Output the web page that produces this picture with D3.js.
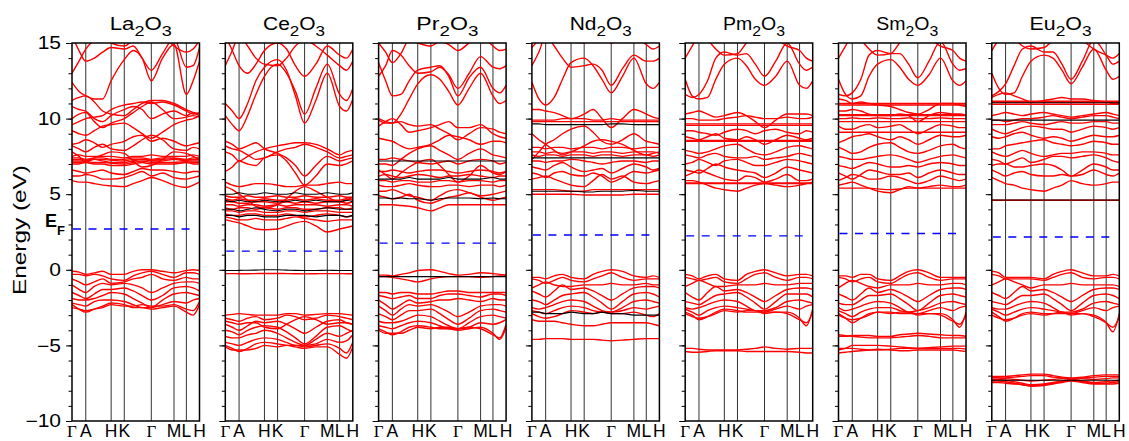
<!DOCTYPE html>
<html><head><meta charset="utf-8">
<script src="https://cdn.jsdelivr.net/npm/d3@7"></script>
<style>body{margin:0;background:#fff}svg{display:block}</style>
</head><body>
<svg id="chart" width="1129" height="441"></svg>
<script>
// ---------------- DATA ----------------
const compounds = ["La","Ce","Pr","Nd","Pm","Sm","Eu"];
const fermiLevels = [2.7, 1.24, 1.77, 2.3, 2.24, 2.4, 2.17];
const kLabels = ["Γ","A","H","K","Γ","M","L","H"];
const kSymPos = [0, 0.108, 0.307, 0.41, 0.622, 0.8, 0.897, 1];
const kGrid = [0, 0.055, 0.108, 0.175, 0.24, 0.307, 0.41, 0.48, 0.55, 0.622, 0.71, 0.8, 0.897, 0.95, 1];
const yTickValues = [-10, -5, 0, 5, 10, 15];

const La_red = [
 [-0.1,-0.15,-0.3,-0.2,-0.1,-0.3,-0.3,-0.1,0.0,0.0,-0.1,-0.2,-0.05,0.0,-0.05],
 [-0.3,-0.3,-0.4,-0.3,-0.4,-0.6,-0.7,-0.4,-0.2,-0.1,-0.3,-0.5,-0.2,-0.2,-0.3],
 [-0.6,-0.8,-1.0,-0.8,-0.6,-0.9,-0.8,-0.6,-0.5,-0.3,-0.6,-0.7,-0.5,-0.6,-0.6],
 [-1.0,-1.3,-1.5,-1.1,-0.9,-1.0,-0.9,-1.0,-1.2,-1.5,-1.2,-0.9,-0.8,-0.8,-0.9],
 [-1.5,-1.7,-1.9,-1.6,-1.3,-1.3,-1.2,-1.4,-1.7,-2.0,-1.7,-1.2,-1.1,-1.2,-1.4],
 [-1.9,-2.0,-2.0,-1.9,-1.7,-1.5,-1.6,-1.9,-2.2,-2.5,-2.0,-1.6,-1.5,-1.6,-1.7],
 [-2.2,-2.3,-2.4,-2.1,-2.0,-2.0,-2.1,-2.3,-2.5,-2.5,-2.3,-2.1,-2.2,-2.0,-1.9],
 [-2.3,-2.6,-2.8,-2.6,-2.4,-2.2,-2.3,-2.5,-2.5,-2.6,-2.5,-2.4,-2.8,-3.0,-2.3],
 [-2.5,-2.6,-2.7,-2.6,-2.5,-2.3,-2.4,-2.4,-2.3,-2.4,-2.4,-2.3,-2.6,-2.7,-2.1],
 [5.9,5.8,5.8,5.7,5.6,5.55,5.5,5.7,5.9,6.1,5.9,5.6,5.45,5.6,5.8],
 [6.2,6.2,6.3,6.2,6.0,6.0,6.1,6.3,6.5,6.2,6.4,6.1,6.0,6.1,6.2],
 [6.6,6.5,6.4,6.5,6.6,6.4,6.3,6.5,6.7,6.6,6.6,6.5,6.4,6.5,6.5],
 [7.0,7.0,7.1,7.0,7.0,6.9,6.9,7.0,7.1,7.0,7.0,7.0,7.1,7.0,7.0],
 [7.1,7.1,7.15,7.1,7.1,7.05,7.0,7.1,7.2,7.1,7.1,7.1,7.15,7.1,7.1],
 [7.2,7.2,7.2,7.3,7.2,7.1,7.1,7.2,7.3,7.2,7.2,7.3,7.2,7.2,7.2],
 [7.3,7.3,7.25,7.3,7.3,7.25,7.2,7.3,7.3,7.25,7.3,7.35,7.25,7.3,7.3],
 [7.4,7.4,7.3,7.4,7.4,7.3,7.3,7.4,7.4,7.3,7.4,7.4,7.3,7.4,7.4],
 [7.5,7.6,7.5,7.5,7.5,7.5,7.4,7.5,7.5,7.6,7.5,7.5,7.5,7.6,7.5],
 [7.8,7.5,7.1,7.4,7.6,7.8,7.7,7.2,6.8,6.9,7.3,7.8,7.7,7.5,7.3],
 [8.2,8.0,7.8,8.1,8.3,8.0,7.9,8.2,8.6,8.9,8.6,8.0,7.9,8.1,8.0],
 [8.3,8.4,8.6,8.4,8.1,8.3,8.5,8.8,8.9,8.5,8.7,8.5,8.2,8.3,8.4],
 [9.2,9.0,8.9,9.2,9.5,9.6,9.7,9.4,9.0,8.7,9.1,9.6,9.9,10.0,10.2],
 [10.0,10.3,10.4,9.8,9.4,9.7,10.0,10.4,10.8,11.1,10.6,10.0,10.1,10.2,10.1],
 [10.8,10.6,10.5,10.0,9.8,10.2,10.6,10.8,10.6,10.0,10.3,10.5,10.2,10.4,10.3],
 [11.2,11.4,11.5,11.1,10.5,10.3,10.2,10.6,11.0,11.2,11.2,11.0,10.6,10.4,10.2],
 [9.6,9.8,10.0,10.1,10.2,10.6,10.9,11.0,11.1,11.0,11.1,10.9,10.5,10.3,10.4],
 [12.4,11.8,11.5,11.3,11.3,12.5,13.9,14.5,14.0,12.5,14.0,14.9,11.6,12.5,13.8],
 [15.5,14.5,13.8,14.0,14.4,14.7,14.6,14.8,14.0,13.2,14.3,15.3,13.4,13.5,14.7],
 [13.0,13.8,14.6,15.2,15.5,15.0,14.8,15.2,15.5,15.5,15.5,14.8,14.4,14.6,15.2]
];
const La_black = [];

const Ce_red = [
 [-3.0,-2.95,-2.9,-2.95,-3.0,-3.0,-3.0,-2.9,-2.9,-3.0,-2.95,-2.9,-2.9,-2.95,-3.0],
 [-3.2,-3.3,-3.4,-3.2,-3.1,-3.3,-3.2,-3.0,-3.1,-3.3,-3.2,-3.0,-3.1,-3.2,-3.3],
 [-3.6,-3.8,-4.0,-3.7,-3.4,-3.5,-3.4,-3.6,-3.9,-4.2,-3.8,-3.4,-3.3,-3.5,-3.6],
 [-4.0,-4.1,-4.3,-4.0,-3.8,-3.7,-3.8,-4.1,-4.5,-4.9,-4.4,-3.8,-3.7,-3.9,-4.1],
 [-4.4,-4.5,-4.5,-4.3,-4.2,-4.0,-4.2,-4.5,-4.8,-5.0,-4.6,-4.2,-4.4,-4.2,-4.0],
 [-4.8,-4.9,-5.0,-4.8,-4.6,-4.5,-4.6,-4.8,-5.0,-5.0,-4.9,-4.6,-4.8,-4.7,-4.3],
 [-5.0,-5.2,-5.4,-5.2,-4.9,-4.8,-4.9,-5.0,-5.0,-5.1,-5.0,-4.9,-5.2,-5.5,-4.8],
 [-5.1,-5.3,-5.3,-5.3,-5.2,-5.0,-5.1,-5.0,-5.1,-5.2,-5.1,-5.1,-5.6,-5.85,-5.1],
 [-3.4,-3.5,-3.6,-3.5,-3.5,-3.8,-3.9,-3.6,-3.3,-3.1,-3.3,-3.6,-3.5,-3.5,-3.6],
 [-0.25,-0.25,-0.26,-0.26,-0.25,-0.24,-0.24,-0.25,-0.26,-0.27,-0.26,-0.25,-0.25,-0.26,-0.26],
 [3.3,3.2,3.1,2.9,2.7,2.65,2.7,2.9,3.1,3.2,2.9,2.5,2.7,2.8,2.9],
 [3.5,3.4,3.3,3.3,3.4,3.3,3.3,3.4,3.5,3.4,3.3,3.2,3.3,3.3,3.3],
 [3.7,3.6,3.6,3.7,3.7,3.6,3.6,3.7,3.6,3.5,3.6,3.7,3.6,3.5,3.6],
 [3.9,3.9,3.8,3.9,3.9,3.8,3.8,3.9,3.9,3.8,3.9,3.9,3.8,3.8,3.8],
 [4.1,4.0,4.1,4.1,4.0,4.1,4.0,4.1,4.1,4.0,4.0,4.1,4.1,4.0,4.1],
 [4.3,4.3,4.2,4.3,4.3,4.2,4.3,4.2,4.3,4.3,4.3,4.2,4.3,4.3,4.2],
 [4.5,4.5,4.4,4.4,4.5,4.5,4.4,4.5,4.4,4.5,4.4,4.5,4.5,4.4,4.5],
 [4.7,4.6,4.7,4.6,4.6,4.7,4.6,4.6,4.7,4.6,4.7,4.6,4.6,4.7,4.6],
 [4.9,4.8,4.8,4.9,4.8,4.8,4.9,4.8,4.8,4.9,4.8,4.8,4.9,4.8,4.8],
 [5.5,5.3,5.0,4.6,4.2,4.1,4.3,4.7,5.2,5.5,5.2,4.8,4.5,4.6,4.8],
 [5.8,5.6,5.5,5.6,5.7,5.7,5.6,5.5,5.5,5.6,5.6,5.7,5.8,5.7,5.7],
 [6.5,6.8,7.2,7.0,6.9,7.4,7.6,7.2,6.4,5.6,6.2,7.0,6.9,7.0,7.2],
 [7.8,7.6,7.2,7.5,7.8,8.0,8.2,8.3,8.4,8.4,8.3,8.0,7.6,7.8,7.9],
 [8.2,8.0,7.9,7.6,7.3,7.4,7.8,8.0,8.1,8.3,8.1,7.8,7.4,7.5,7.6],
 [8.5,8.3,8.0,8.2,8.4,8.0,7.7,7.4,6.9,6.2,6.9,7.5,7.2,7.3,7.4],
 [10.2,9.6,9.2,10.2,11.6,12.8,13.6,13.0,11.8,10.3,12.0,13.6,11.6,11.2,12.0],
 [11.0,10.5,10.0,11.0,12.5,13.4,13.9,13.2,11.5,9.7,11.2,13.0,10.8,10.5,11.3],
 [15.5,14.5,13.5,13.0,13.6,14.5,15.0,14.6,13.5,12.8,13.6,14.8,14.2,14.0,14.6],
 [13.5,14.5,15.5,14.8,14.0,13.6,13.5,14.0,14.8,15.2,14.8,14.2,13.5,13.2,13.8]
];
const Ce_black = [
 [-0.05,-0.05,-0.04,-0.03,-0.02,0.0,0.0,-0.02,-0.04,-0.05,-0.05,-0.03,-0.05,-0.05,-0.05],
 [3.6,3.6,3.5,3.6,3.6,3.5,3.5,3.6,3.6,3.6,3.5,3.6,3.6,3.5,3.6],
 [4.0,4.0,3.9,4.0,4.1,4.0,3.9,4.0,4.0,3.9,4.0,4.1,4.0,4.0,4.0],
 [4.6,4.5,4.6,4.5,4.5,4.6,4.5,4.5,4.6,4.5,4.6,4.5,4.5,4.6,4.5],
 [5.0,5.0,5.1,5.0,5.0,5.1,5.0,5.0,5.1,5.0,5.0,5.1,5.0,5.0,5.1]
];

const Pr_red = [
 [-1.5,-1.5,-1.6,-1.5,-1.5,-1.6,-1.6,-1.5,-1.4,-1.4,-1.5,-1.5,-1.5,-1.5,-1.5],
 [-1.7,-1.8,-1.9,-1.8,-1.7,-1.9,-1.9,-1.7,-1.6,-1.6,-1.7,-1.8,-1.6,-1.6,-1.7],
 [-2.0,-2.3,-2.6,-2.3,-2.0,-2.2,-2.1,-2.0,-2.0,-1.9,-2.0,-2.1,-1.9,-2.0,-2.0],
 [-2.4,-2.7,-3.0,-2.6,-2.3,-2.4,-2.3,-2.5,-2.8,-3.1,-2.8,-2.4,-2.3,-2.3,-2.4],
 [-2.9,-3.1,-3.3,-3.0,-2.7,-2.7,-2.6,-2.9,-3.3,-3.6,-3.2,-2.7,-2.6,-2.7,-2.8],
 [-3.4,-3.5,-3.5,-3.4,-3.2,-3.0,-3.1,-3.4,-3.7,-3.9,-3.5,-3.1,-3.0,-3.1,-3.2],
 [-3.7,-3.8,-3.9,-3.7,-3.5,-3.4,-3.5,-3.7,-3.9,-3.9,-3.8,-3.5,-3.6,-3.5,-3.3],
 [-3.9,-4.1,-4.3,-4.1,-3.8,-3.7,-3.8,-3.9,-3.9,-4.0,-3.9,-3.8,-4.2,-4.6,-3.8],
 [-4.0,-4.2,-4.2,-4.2,-4.0,-3.8,-3.9,-3.8,-3.8,-3.9,-3.8,-3.9,-4.3,-4.5,-3.6],
 [-0.35,-0.35,-0.4,-0.3,-0.2,-0.05,0.0,-0.1,-0.25,-0.35,-0.3,-0.2,-0.25,-0.3,-0.35],
 [-0.45,-0.45,-0.5,-0.6,-0.7,-0.8,-0.6,-0.5,-0.45,-0.45,-0.45,-0.5,-0.45,-0.4,-0.4],
 [4.3,4.3,4.3,4.25,4.2,4.1,3.9,4.1,4.3,4.3,4.3,4.3,4.3,4.3,4.3],
 [4.9,4.8,4.7,4.8,5.0,4.6,4.4,4.6,4.8,4.9,5.1,4.8,4.6,4.7,4.8],
 [5.2,5.2,5.3,5.1,4.9,4.8,4.6,4.9,5.2,5.3,5.1,4.9,5.0,5.1,5.2],
 [5.6,5.5,5.5,5.6,5.7,5.6,5.5,5.5,5.6,5.6,5.5,5.6,5.6,5.5,5.6],
 [5.9,5.9,5.8,5.9,5.9,5.8,5.8,5.9,5.9,5.8,5.9,5.9,5.8,5.9,5.9],
 [6.2,6.3,6.2,6.1,6.2,6.3,6.2,6.1,6.2,6.2,6.3,6.2,6.1,6.2,6.2],
 [6.5,6.5,6.6,6.5,6.4,6.5,6.6,6.6,6.5,6.4,6.5,6.6,6.5,6.4,6.5],
 [7.3,7.3,7.4,7.3,7.2,7.1,7.0,7.1,7.2,7.0,7.2,7.3,7.2,7.0,7.1],
 [6.6,6.3,6.0,6.4,6.8,7.1,7.3,6.9,6.3,5.8,6.2,6.9,6.4,6.3,6.5],
 [7.0,7.0,6.9,7.3,7.7,8.0,8.2,7.9,7.6,7.3,7.7,8.0,7.6,7.5,7.4],
 [8.7,8.6,8.5,8.2,8.0,8.1,8.3,8.6,8.9,8.8,8.6,8.3,8.5,8.5,8.4],
 [9.5,9.8,10.0,9.6,9.1,9.2,9.4,9.6,9.8,9.4,9.4,9.6,9.0,8.8,8.7],
 [9.9,9.7,9.7,9.8,9.6,9.5,9.6,9.3,9.0,8.6,9.0,9.4,9.3,9.1,9.0],
 [10.0,9.8,9.7,10.3,11.3,12.3,12.9,12.6,11.8,10.9,12.0,13.0,11.5,11.0,11.2],
 [13.7,12.5,11.5,11.6,12.5,13.2,13.4,13.5,12.8,11.5,12.7,13.4,12.0,11.7,12.2],
 [12.8,13.5,14.5,14.2,13.5,13.0,13.1,13.4,12.9,12.0,13.0,14.1,13.4,13.3,13.5],
 [15.0,14.4,13.7,14.3,15.2,15.0,14.8,15.1,14.9,14.5,15.0,15.5,14.8,14.5,14.6]
];
const Pr_black = [
 [-0.45,-0.45,-0.45,-0.45,-0.45,-0.45,-0.45,-0.45,-0.45,-0.45,-0.45,-0.45,-0.45,-0.45,-0.45],
 [4.75,4.75,4.7,4.75,4.7,4.7,4.6,4.7,4.75,4.75,4.75,4.7,4.75,4.7,4.7],
 [6.0,6.0,6.0,6.0,6.1,6.0,6.0,6.0,6.1,6.0,6.0,6.0,6.1,6.0,6.0],
 [7.2,7.2,7.2,7.2,7.2,7.2,7.2,7.2,7.2,7.2,7.2,7.2,7.2,7.2,7.2]
];

const Nd_red = [
 [-0.5,-0.5,-0.6,-0.4,-0.3,-0.5,-0.6,-0.3,-0.1,0.0,-0.1,-0.4,-0.5,-0.4,-0.5],
 [-0.6,-0.7,-0.9,-0.7,-0.5,-0.7,-0.8,-0.6,-0.4,-0.2,-0.5,-0.7,-0.6,-0.6,-0.6],
 [-1.2,-1.0,-0.8,-1.0,-1.1,-1.1,-1.0,-1.0,-1.0,-0.9,-1.0,-1.0,-0.9,-1.0,-1.0],
 [-1.4,-1.6,-1.8,-1.4,-1.0,-1.3,-1.2,-1.4,-1.7,-2.0,-1.6,-1.2,-1.1,-1.1,-1.2],
 [-2.0,-2.1,-2.3,-2.0,-1.7,-1.6,-1.5,-1.8,-2.2,-2.6,-2.1,-1.6,-1.5,-1.6,-1.8],
 [-2.5,-2.6,-2.5,-2.3,-2.1,-2.0,-2.1,-2.4,-2.7,-2.8,-2.5,-2.1,-2.0,-2.1,-2.2],
 [-2.7,-2.8,-2.9,-2.7,-2.5,-2.4,-2.5,-2.7,-2.8,-2.8,-2.7,-2.5,-2.6,-2.5,-2.4],
 [-2.9,-3.1,-3.2,-3.1,-2.9,-2.7,-2.8,-2.9,-2.8,-2.9,-2.9,-2.8,-3.0,-3.1,-2.9],
 [-3.3,-3.4,-3.4,-3.4,-3.5,-3.6,-3.7,-3.7,-3.6,-3.5,-3.5,-3.5,-3.5,-3.6,-3.7],
 [-4.6,-4.6,-4.55,-4.55,-4.55,-4.6,-4.6,-4.6,-4.65,-4.7,-4.65,-4.6,-4.55,-4.55,-4.55],
 [5.0,5.0,5.0,5.0,5.0,5.0,4.95,4.95,4.95,4.95,4.95,5.0,5.0,5.0,5.0],
 [5.3,5.3,5.3,5.3,5.25,5.2,5.2,5.3,5.3,5.3,5.3,5.3,5.3,5.3,5.3],
 [6.0,6.1,6.2,6.0,5.8,5.6,5.5,5.9,6.3,6.0,6.2,5.8,5.7,5.8,5.9],
 [6.4,6.3,6.1,6.4,6.5,6.3,6.2,6.4,6.2,5.8,6.1,6.5,6.4,6.5,6.6],
 [6.8,6.7,6.6,6.9,7.1,6.8,6.5,6.6,6.7,6.4,6.7,7.0,6.8,6.6,6.7],
 [7.2,7.2,7.1,7.2,7.2,7.3,7.2,7.1,7.0,7.1,7.2,7.2,7.1,7.2,7.2],
 [7.6,7.5,7.6,7.6,7.5,7.6,7.6,7.5,7.6,7.6,7.5,7.6,7.6,7.5,7.6],
 [7.8,7.8,7.7,7.8,7.7,7.8,7.8,7.7,7.8,7.8,7.7,7.8,7.8,7.8,7.7],
 [8.1,8.1,8.0,8.1,8.1,8.0,8.1,8.1,8.0,8.1,8.1,8.0,8.1,8.1,8.1],
 [7.3,7.8,8.3,8.6,9.0,9.3,9.5,9.1,8.5,8.3,8.6,9.0,8.5,8.4,8.3],
 [9.0,8.6,8.3,7.9,7.6,7.8,8.2,8.5,8.6,8.5,8.3,7.9,7.6,7.7,7.8],
 [9.8,9.8,9.8,9.8,9.8,9.8,9.8,9.8,9.8,9.8,9.8,9.8,9.8,9.8,9.8],
 [9.9,9.9,9.9,9.9,10.0,10.0,10.0,9.9,9.9,10.0,9.9,9.9,9.9,9.9,9.9],
 [10.6,10.6,10.5,10.4,10.2,10.0,10.3,10.6,10.0,9.4,10.0,10.6,10.3,10.1,10.0],
 [12.4,11.3,10.9,11.4,12.6,13.7,14.0,13.5,12.6,11.7,12.8,14.0,12.3,12.0,12.4],
 [13.5,14.4,15.5,14.8,14.0,13.4,13.5,13.6,13.2,12.2,13.3,14.2,13.8,13.8,14.0],
 [14.7,15.2,15.5,15.3,15.5,15.2,15.0,15.3,15.5,15.0,15.3,15.6,14.9,14.6,14.8]
];
const Nd_black = [
 [-2.8,-2.8,-2.9,-2.9,-2.9,-2.8,-2.9,-2.9,-2.8,-2.9,-2.9,-3.0,-3.0,-3.0,-3.0],
 [5.2,5.2,5.2,5.2,5.2,5.2,5.15,5.15,5.2,5.2,5.2,5.25,5.2,5.2,5.2],
 [7.4,7.4,7.4,7.4,7.4,7.4,7.4,7.4,7.4,7.4,7.4,7.4,7.4,7.4,7.4],
 [9.65,9.65,9.6,9.6,9.6,9.6,9.6,9.6,9.6,9.65,9.65,9.6,9.6,9.6,9.6]
];

const Pm_red = [
 [-0.3,-0.4,-0.6,-0.4,-0.3,-0.6,-0.7,-0.3,-0.1,0.0,-0.2,-0.4,-0.3,-0.3,-0.4],
 [-0.5,-0.6,-0.7,-0.6,-0.5,-0.8,-0.9,-0.6,-0.3,-0.2,-0.5,-0.7,-0.5,-0.5,-0.6],
 [-1.1,-0.9,-0.7,-0.9,-1.1,-1.1,-1.0,-1.0,-1.0,-0.9,-1.0,-1.0,-0.9,-0.9,-0.9],
 [-1.5,-1.8,-2.0,-1.5,-1.1,-1.4,-1.3,-1.5,-1.8,-2.1,-1.7,-1.3,-1.2,-1.2,-1.3],
 [-2.1,-2.2,-2.3,-2.0,-1.7,-1.6,-1.5,-1.8,-2.2,-2.6,-2.1,-1.6,-1.6,-1.6,-1.8],
 [-2.5,-2.6,-2.5,-2.3,-2.1,-2.0,-2.1,-2.4,-2.7,-2.7,-2.5,-2.1,-2.0,-2.1,-2.2],
 [-2.6,-2.8,-3.0,-2.7,-2.5,-2.4,-2.5,-2.6,-2.7,-2.8,-2.6,-2.4,-2.6,-2.4,-2.3],
 [-2.8,-3.0,-3.3,-3.1,-2.8,-2.6,-2.7,-2.8,-2.8,-2.8,-2.8,-2.8,-3.2,-3.7,-2.6],
 [-2.9,-3.1,-3.2,-3.1,-2.9,-2.7,-2.8,-2.7,-2.7,-2.9,-2.8,-2.9,-3.3,-3.5,-2.8],
 [-5.2,-5.2,-5.25,-5.3,-5.3,-5.3,-5.3,-5.25,-5.2,-5.1,-5.2,-5.25,-5.2,-5.2,-5.2],
 [-5.4,-5.45,-5.45,-5.4,-5.35,-5.35,-5.35,-5.4,-5.4,-5.4,-5.4,-5.4,-5.45,-5.5,-5.5],
 [5.7,5.7,5.7,5.7,5.7,5.7,5.7,5.7,5.7,5.7,5.7,5.7,5.7,5.7,5.7],
 [5.75,5.75,5.75,5.75,5.75,5.75,5.75,5.75,5.75,5.75,5.75,5.75,5.75,5.75,5.75],
 [5.9,5.9,5.8,5.6,5.4,5.3,5.2,5.4,5.6,5.7,5.6,5.5,5.6,5.7,5.8],
 [6.2,6.4,6.6,6.4,6.2,6.0,5.9,6.2,6.1,5.8,6.0,6.3,5.9,5.9,6.0],
 [6.6,6.5,6.4,6.7,7.0,6.8,6.6,6.5,6.4,6.1,6.4,6.8,6.6,6.5,6.4],
 [7.0,7.1,7.3,7.1,6.9,7.2,7.3,7.1,6.9,6.9,7.1,7.3,7.2,7.1,7.0],
 [7.6,7.5,7.4,7.6,7.7,7.5,7.4,7.4,7.5,7.3,7.4,7.5,7.7,7.6,7.5],
 [7.9,7.8,7.7,7.8,8.0,8.2,8.3,8.0,7.7,7.6,7.8,8.1,8.2,8.1,8.0],
 [8.5,8.5,8.5,8.5,8.5,8.5,8.5,8.5,8.5,8.5,8.5,8.5,8.5,8.5,8.5],
 [8.55,8.55,8.55,8.55,8.55,8.55,8.55,8.55,8.55,8.55,8.55,8.55,8.55,8.55,8.55],
 [8.8,8.7,8.6,8.8,9.0,8.7,8.6,8.8,8.6,8.3,8.6,8.9,8.7,8.6,8.7],
 [9.2,9.2,9.1,9.0,8.9,9.1,9.3,9.2,9.0,9.2,9.3,9.1,9.0,9.2,9.1],
 [9.55,9.55,9.55,9.55,9.55,9.55,9.55,9.55,9.55,9.55,9.55,9.55,9.55,9.55,9.55],
 [9.65,9.65,9.65,9.65,9.65,9.65,9.65,9.65,9.65,9.65,9.65,9.65,9.65,9.65,9.65],
 [10.0,10.0,9.9,9.9,9.9,10.0,10.1,10.2,10.1,10.0,10.0,10.1,10.0,10.0,10.1],
 [10.3,10.4,10.5,10.3,10.1,10.2,10.4,10.2,9.8,9.4,9.9,10.3,10.3,10.3,10.2],
 [12.6,11.5,11.3,11.4,12.6,13.6,14.0,13.5,12.6,12.2,12.8,13.8,12.2,12.0,12.5],
 [11.6,11.4,11.6,12.5,14.0,14.4,14.2,14.3,13.6,12.8,13.8,15.0,13.6,13.2,13.4],
 [14.0,14.8,15.5,15.2,14.6,14.2,14.3,15.0,15.5,15.6,15.3,14.8,14.5,14.0,13.8]
];
const Pm_black = [];

const Sm_red = [
 [-0.4,-0.4,-0.5,-0.3,-0.3,-0.6,-0.7,-0.4,-0.1,0.0,-0.2,-0.5,-0.5,-0.5,-0.5],
 [-0.5,-0.6,-0.8,-0.6,-0.5,-0.8,-0.9,-0.6,-0.3,-0.2,-0.5,-0.7,-0.6,-0.6,-0.6],
 [-1.2,-0.9,-0.7,-0.9,-1.1,-1.2,-1.0,-1.0,-1.0,-0.9,-1.0,-1.0,-0.9,-0.9,-1.0],
 [-1.6,-1.8,-2.0,-1.6,-1.2,-1.5,-1.3,-1.5,-1.8,-2.1,-1.7,-1.3,-1.2,-1.2,-1.3],
 [-2.2,-2.3,-2.3,-2.0,-1.7,-1.7,-1.6,-1.9,-2.3,-2.7,-2.2,-1.7,-1.6,-1.7,-1.8],
 [-2.5,-2.7,-2.6,-2.4,-2.2,-2.1,-2.2,-2.5,-2.8,-2.7,-2.5,-2.2,-2.1,-2.2,-2.3],
 [-2.7,-2.9,-3.1,-2.8,-2.6,-2.5,-2.5,-2.7,-2.8,-2.9,-2.7,-2.5,-2.7,-2.5,-2.4],
 [-2.9,-3.2,-3.5,-3.2,-2.9,-2.8,-2.8,-2.9,-2.9,-2.9,-2.9,-2.9,-3.3,-3.8,-2.8],
 [-3.0,-3.2,-3.3,-3.2,-3.0,-2.8,-2.9,-2.8,-2.8,-3.0,-2.9,-3.0,-3.4,-3.6,-3.0],
 [-4.4,-4.4,-4.35,-4.35,-4.35,-4.4,-4.4,-4.3,-4.25,-4.2,-4.25,-4.3,-4.35,-4.35,-4.4],
 [-4.3,-4.35,-4.4,-4.45,-4.5,-4.5,-4.5,-4.45,-4.4,-4.35,-4.4,-4.5,-4.5,-4.5,-4.5],
 [-5.3,-5.2,-5.0,-5.0,-5.0,-5.0,-5.05,-5.1,-5.15,-5.2,-5.15,-5.1,-5.05,-5.05,-5.05],
 [-5.5,-5.45,-5.4,-5.35,-5.3,-5.25,-5.3,-5.35,-5.35,-5.3,-5.3,-5.3,-5.3,-5.35,-5.4],
 [-5.2,-5.2,-5.2,-5.25,-5.3,-5.3,-5.25,-5.2,-5.2,-5.2,-5.2,-5.2,-5.2,-5.2,-5.25],
 [5.4,5.4,5.4,5.4,5.4,5.35,5.3,5.35,5.4,5.4,5.4,5.4,5.4,5.4,5.4],
 [5.6,5.7,5.8,5.6,5.4,5.2,5.1,5.3,5.5,5.4,5.5,5.6,5.5,5.5,5.6],
 [5.9,6.1,6.3,6.2,6.0,6.0,6.2,6.1,5.9,5.7,5.9,6.2,6.0,5.9,6.0],
 [6.4,6.2,6.0,6.3,6.6,6.5,6.3,6.3,6.4,6.1,6.4,6.6,6.4,6.3,6.3],
 [6.9,6.8,6.7,6.9,7.1,7.0,6.8,6.8,6.9,6.8,7.0,7.1,7.0,6.9,6.9],
 [7.5,7.4,7.3,7.3,7.4,7.5,7.6,7.5,7.3,7.1,7.3,7.5,7.6,7.5,7.4],
 [8.1,7.9,7.7,7.8,8.1,8.3,8.4,8.1,7.8,7.7,7.9,8.2,8.3,8.1,8.0],
 [8.4,8.6,8.8,8.9,9.0,8.8,8.6,8.8,8.6,8.3,8.6,8.9,8.8,8.8,8.9],
 [9.1,9.1,9.1,9.1,9.1,9.1,9.1,9.1,9.1,9.1,9.1,9.1,9.1,9.1,9.1],
 [9.5,9.3,9.3,9.5,9.6,9.4,9.5,9.6,9.3,9.0,9.3,9.6,9.5,9.4,9.4],
 [9.8,9.8,9.8,9.8,9.8,9.8,9.8,9.8,9.8,9.8,9.8,9.8,9.8,9.8,9.8],
 [10.0,10.0,10.05,10.0,10.0,10.05,10.0,10.0,10.05,10.0,10.0,10.05,10.0,10.0,10.0],
 [10.2,10.2,10.2,10.2,10.2,10.2,10.2,10.2,10.2,10.2,10.2,10.2,10.2,10.2,10.2],
 [10.25,10.25,10.25,10.25,10.25,10.25,10.25,10.25,10.25,10.25,10.25,10.25,10.25,10.25,10.25],
 [10.5,10.5,10.6,10.5,10.3,10.2,10.2,10.3,10.2,9.8,10.2,10.4,10.3,10.3,10.2],
 [10.9,10.9,10.9,10.9,10.9,10.9,10.9,10.9,10.9,10.9,10.9,10.9,10.9,10.9,10.9],
 [11.0,11.0,11.0,11.0,11.0,11.0,11.0,11.0,11.0,11.0,11.0,11.0,11.0,11.0,11.0],
 [11.3,11.2,11.0,11.1,11.0,10.9,10.8,10.6,10.4,10.3,10.6,11.0,11.0,10.9,10.8],
 [12.6,11.6,11.3,11.5,12.8,13.6,13.9,13.4,12.6,12.2,12.9,14.0,12.5,12.2,12.5],
 [11.6,11.5,11.7,12.6,14.2,14.5,14.3,14.3,13.6,12.7,13.8,15.1,13.6,13.2,13.3],
 [14.0,14.8,15.5,15.2,14.6,14.2,14.3,15.0,15.5,15.6,15.3,14.8,14.5,14.0,13.8]
];
const Sm_black = [];

const Eu_red = [
 [-0.1,-0.2,-0.5,-0.5,-0.5,-0.5,-0.6,-0.3,-0.1,0.0,-0.2,-0.4,-0.4,-0.3,-0.4],
 [-0.3,-0.4,-0.6,-0.6,-0.6,-0.6,-0.7,-0.5,-0.3,-0.2,-0.5,-0.6,-0.5,-0.5,-0.6],
 [-1.0,-0.8,-0.6,-0.8,-1.0,-1.2,-1.0,-1.0,-1.0,-0.9,-1.0,-1.0,-1.0,-1.0,-1.1],
 [-1.5,-1.7,-1.9,-1.5,-1.1,-1.4,-1.3,-1.5,-1.8,-2.1,-1.7,-1.3,-1.2,-1.2,-1.3],
 [-2.1,-2.2,-2.3,-2.0,-1.7,-1.7,-1.6,-1.9,-2.3,-2.7,-2.2,-1.7,-1.6,-1.7,-1.9],
 [-2.5,-2.6,-2.6,-2.4,-2.2,-2.1,-2.2,-2.5,-2.8,-2.8,-2.6,-2.2,-2.1,-2.2,-2.3],
 [-2.6,-2.8,-3.0,-2.8,-2.6,-2.5,-2.6,-2.7,-2.8,-2.9,-2.7,-2.5,-2.7,-2.5,-2.4],
 [-2.8,-3.1,-3.4,-3.2,-2.9,-2.8,-2.9,-2.9,-2.9,-2.9,-2.9,-3.0,-3.5,-4.1,-2.9],
 [-3.0,-3.2,-3.3,-3.2,-3.0,-2.9,-3.0,-2.9,-2.8,-3.0,-2.9,-3.1,-3.5,-3.8,-3.1],
 [-7.05,-7.05,-7.05,-7.0,-6.95,-6.9,-6.9,-7.0,-7.1,-7.15,-7.1,-7.0,-6.95,-6.95,-6.95],
 [-7.15,-7.15,-7.15,-7.1,-7.05,-7.0,-7.0,-7.1,-7.15,-7.2,-7.15,-7.1,-7.05,-7.05,-7.05],
 [-7.1,-7.15,-7.2,-7.25,-7.3,-7.35,-7.3,-7.25,-7.2,-7.2,-7.2,-7.25,-7.2,-7.15,-7.15],
 [-7.25,-7.25,-7.3,-7.4,-7.5,-7.6,-7.55,-7.45,-7.35,-7.25,-7.35,-7.45,-7.4,-7.35,-7.3],
 [-7.35,-7.35,-7.4,-7.5,-7.6,-7.65,-7.6,-7.5,-7.4,-7.3,-7.4,-7.5,-7.5,-7.45,-7.4],
 [-7.45,-7.45,-7.5,-7.55,-7.6,-7.7,-7.65,-7.55,-7.45,-7.35,-7.45,-7.55,-7.55,-7.55,-7.5],
 [4.6,4.6,4.6,4.6,4.6,4.6,4.6,4.6,4.6,4.6,4.6,4.6,4.6,4.6,4.6],
 [6.1,5.9,5.7,5.6,5.4,5.3,5.2,5.4,5.6,5.9,5.7,5.6,5.7,5.8,5.8],
 [6.6,6.4,6.2,6.4,6.5,6.3,6.2,6.2,6.3,6.2,6.3,6.6,6.3,6.2,6.4],
 [6.9,7.0,7.0,6.8,6.8,6.9,7.0,6.9,6.6,6.2,6.6,7.0,6.8,6.6,6.6],
 [7.3,7.2,7.0,7.2,7.4,7.1,7.3,7.5,7.5,7.4,7.5,7.6,7.4,7.2,7.1],
 [7.8,7.6,7.5,7.7,7.9,7.7,7.5,7.6,7.7,7.7,7.8,7.8,7.7,7.6,7.6],
 [8.0,8.0,8.2,8.3,8.4,8.5,8.6,8.4,8.3,8.2,8.3,8.5,8.4,8.3,8.3],
 [8.8,8.7,8.8,9.0,9.1,8.9,8.7,8.8,8.7,8.5,8.7,8.9,8.8,8.8,8.9],
 [9.3,9.1,9.0,9.2,9.4,9.5,9.4,9.3,9.3,9.1,9.3,9.5,9.4,9.3,9.4],
 [9.6,9.6,9.6,9.7,9.8,9.7,9.6,9.7,9.8,9.7,9.7,9.8,9.8,9.7,9.7],
 [9.9,9.9,9.8,9.9,10.0,10.0,10.1,10.2,10.1,10.0,10.1,10.2,10.2,10.1,10.0],
 [10.2,10.3,10.4,10.3,10.2,10.3,10.4,10.3,10.2,10.1,10.2,10.3,10.4,10.3,10.2],
 [10.95,10.95,10.95,10.95,10.95,10.95,10.95,10.95,10.95,10.95,10.95,10.95,10.95,10.95,10.95],
 [11.1,11.1,11.1,11.1,11.1,11.1,11.1,11.1,11.1,11.1,11.1,11.1,11.1,11.1,11.1],
 [11.15,11.15,11.15,11.15,11.15,11.15,11.15,11.15,11.15,11.15,11.15,11.15,11.15,11.15,11.15],
 [11.4,11.6,11.7,11.5,11.3,11.1,11.2,11.3,11.4,11.3,11.3,11.2,11.1,11.0,11.0],
 [13.0,12.0,11.6,11.7,12.8,13.8,14.2,14.0,13.2,12.3,13.4,14.6,13.2,12.6,12.8],
 [11.5,11.8,12.3,13.5,14.6,14.8,14.4,14.4,13.6,12.6,13.8,15.2,14.2,13.6,13.8],
 [14.5,15.2,15.5,15.3,14.8,14.6,14.7,15.2,15.6,15.6,15.2,14.6,14.2,14.0,14.3]
];
const Eu_black = [
 [-7.3,-7.3,-7.3,-7.3,-7.3,-7.3,-7.3,-7.3,-7.3,-7.3,-7.3,-7.3,-7.3,-7.3,-7.3],
 [4.62,4.62,4.62,4.62,4.62,4.62,4.62,4.62,4.62,4.62,4.62,4.62,4.62,4.62,4.62],
 [9.9,9.9,9.9,9.9,9.9,9.9,9.9,9.9,9.9,9.9,9.9,9.9,9.9,9.9,9.9],
 [11.05,11.05,11.05,11.05,11.05,11.05,11.05,11.05,11.05,11.05,11.05,11.05,11.05,11.05,11.05]
];

const redBands = [La_red, Ce_red, Pr_red, Nd_red, Pm_red, Sm_red, Eu_red];
const blackBands = [La_black, Ce_black, Pr_black, Nd_black, Pm_black, Sm_black, Eu_black];

// ---------------- DRAW ----------------
const svg = d3.select("#chart");
const lsans = "'Liberation Sans', Arial, Helvetica, sans-serif";
const serif = "'Liberation Serif', 'Times New Roman', serif";
const panelLeft0 = 72, panelStep = 153.3, panelW = 127.5;
const plotTop = 43, plotBottom = 421;
const y = d3.scaleLinear().domain([-10, 15]).range([plotBottom, plotTop]);

function stretchX(sel, targetW, cx) {
  const w = sel.node().getBBox().width;
  const s = targetW / w;
  sel.attr("transform", `translate(${cx},0) scale(${s},1) translate(${-cx},0)`);
}

svg.append("rect").attr("width",1129).attr("height",441).attr("fill","#fff");

compounds.forEach((el, i) => {
  const x0 = panelLeft0 + i*panelStep;
  const x = d3.scaleLinear().domain([0,1]).range([x0, x0+panelW]);
  const g = svg.append("g");
  const clipId = "clip"+i;
  svg.append("clipPath").attr("id", clipId).append("rect")
    .attr("x", x0).attr("y", plotTop).attr("width", panelW).attr("height", plotBottom-plotTop);

  g.selectAll("line.k").data(kSymPos.slice(1,-1)).join("line")
    .attr("x1", d=>x(d)).attr("x2", d=>x(d)).attr("y1", plotTop).attr("y2", plotBottom)
    .attr("stroke", "#333").attr("stroke-width", 1);

  const line = d3.line().x((d,j)=>x(kGrid[j])).y(d=>y(d)).curve(d3.curveMonotoneX);
  const bands = g.append("g").attr("clip-path", `url(#${clipId})`);
  bands.selectAll("path.r").data(redBands[i]).join("path")
    .attr("d", line).attr("fill","none").attr("stroke","#ff0000").attr("stroke-width",1.4);
  bands.selectAll("path.b").data(blackBands[i]).join("path")
    .attr("d", line).attr("fill","none").attr("stroke","#000").attr("stroke-width",1.1);

  g.append("line").attr("x1", x0+1).attr("x2", x0+panelW-6)
    .attr("y1", y(fermiLevels[i])).attr("y2", y(fermiLevels[i]))
    .attr("stroke","#0000ff").attr("stroke-width",1.3).attr("stroke-dasharray","8,7.5");

  g.append("rect").attr("x", x0).attr("y", plotTop).attr("width", panelW).attr("height", plotBottom-plotTop)
    .attr("fill","none").attr("stroke","#000").attr("stroke-width",1.5);

  const minor = d3.axisLeft(y).tickValues(d3.range(-10,16,1)).tickSize(3.5).tickFormat("");
  const major = d3.axisLeft(y).tickValues(yTickValues).tickSize(6).tickPadding(5)
    .tickFormat(i===0 ? d3.format("d") : () => "");
  const ga = svg.append("g").attr("transform", `translate(${x0},0)`);
  ga.call(minor); ga.select(".domain").remove();
  const gb = svg.append("g").attr("transform", `translate(${x0},0)`);
  gb.call(major); gb.select(".domain").remove();
  [ga, gb].forEach(a => a.selectAll("line").attr("stroke","#000").attr("stroke-width",1));
  gb.selectAll("text").attr("font-family", lsans).attr("font-size", 17.5).attr("fill","#000")
    .attr("transform", "translate(-11,0) scale(1.2,1) translate(11,0)");

  const cx = x0 + panelW/2 + 5;
  const t = svg.append("text").attr("x", cx).attr("y", 30)
    .attr("text-anchor","middle").attr("font-family", lsans).attr("font-size", 18.5).attr("fill","#000");
  t.append("tspan").text(el);
  t.append("tspan").attr("dy", 6).attr("font-size", 15).text("2");
  t.append("tspan").attr("dy", -6).text("O");
  t.append("tspan").attr("dy", 6).attr("font-size", 15).text("3");
  stretchX(t, 62, cx);

  svg.append("g").selectAll("text").data(kLabels).join("text")
    .attr("x", (d,j)=>x(kSymPos[j])).attr("y", 437)
    .attr("text-anchor","middle")
    .attr("font-family", d => d==="Γ" ? serif : lsans)
    .attr("font-size", d => d==="Γ" ? 17 : 17.5)
    .attr("fill","#000").text(d=>d);
});

svg.append("text").attr("transform","translate(26,230) rotate(-90)")
  .attr("text-anchor","middle").attr("font-family", lsans).attr("font-size", 18)
  .attr("textLength", 130).attr("lengthAdjust", "spacingAndGlyphs")
  .attr("fill","#000").text("Energy (eV)");

const ef = svg.append("text").attr("x", 45).attr("y", 227)
  .attr("font-family", lsans).attr("font-weight","bold").attr("font-size", 18).attr("fill","#000");
ef.append("tspan").text("E");
ef.append("tspan").attr("dy", 8).attr("font-size", 13).text("F");
</script>
</body></html>
